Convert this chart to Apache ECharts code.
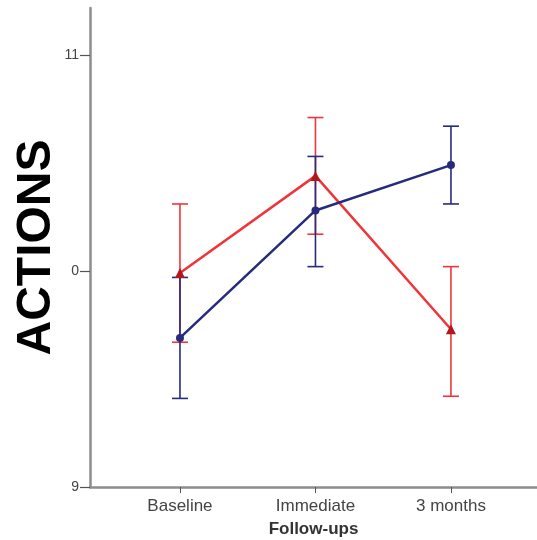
<!DOCTYPE html>
<html>
<head>
<meta charset="utf-8">
<script src="https://cdn.jsdelivr.net/npm/echarts@6.0.0/dist/echarts.min.js"></script>
<style>
  html, body { margin: 0; padding: 0; background: #fff; }
  #chart { width: 537px; height: 540px; }
</style>
</head>
<body>
<div id="chart"></div>
<script>
const categories = ['Baseline', 'Immediate', '3 months'];
const yTickValues = [9, 10, 11];
const yTickLabels = ['9', '0', '11'];

// red group (triangles)
const redMean = [9.99, 10.44, 9.73];
const redLow = [9.67, 10.17, 9.42];
const redHigh = [10.31, 10.71, 10.02];

// blue group (circles)
const blueMean = [9.69, 10.28, 10.49];
const blueLow = [9.41, 10.02, 10.31];
const blueHigh = [9.97, 10.53, 10.67];

const RED = '#f0353a';
const BLUE = '#272b7c';

function errorSeries(low, high, color) {
  return {
    type: 'custom',
    z: 3,
    data: low.map((l, i) => [i + 1, l, high[i]]),
    renderItem: (params, api) => {
      const lo = api.coord([api.value(0), api.value(1)]);
      const hi = api.coord([api.value(0), api.value(2)]);
      const w = 8;
      const style = { stroke: color, lineWidth: 1.6 };
      return {
        type: 'group',
        children: [
          { type: 'line', shape: { x1: lo[0], y1: lo[1], x2: hi[0], y2: hi[1] }, style },
          { type: 'line', shape: { x1: lo[0] - w, y1: lo[1], x2: lo[0] + w, y2: lo[1] }, style },
          { type: 'line', shape: { x1: hi[0] - w, y1: hi[1], x2: hi[0] + w, y2: hi[1] }, style }
        ]
      };
    }
  };
}

const chart = echarts.init(document.getElementById('chart'));
chart.setOption({
  animation: false,
  grid: { left: 90, right: 0, top: 8, bottom: 53, containLabel: false, outerBoundsMode: 'none' },
  xAxis: {
    type: 'value',
    min: 0.336,
    max: 3.635,
    name: 'Follow-ups',
    nameLocation: 'middle',
    nameGap: 34,
    nameMoveOverlap: false,
    nameTextStyle: { fontFamily: 'Liberation Sans', fontWeight: 'bold', fontSize: 17, color: '#333' },
    splitLine: { show: false },
    axisLine: { lineStyle: { color: '#8c8c8c', width: 2.5 } },
    axisTick: { customValues: [1, 2, 3], length: 6, lineStyle: { color: '#555', width: 1 } },
    axisLabel: {
      customValues: [1, 2, 3],
      formatter: v => categories[Math.round(v) - 1],
      fontFamily: 'Liberation Sans',
      fontSize: 17,
      color: '#444',
      margin: 11
    }
  },
  yAxis: {
    type: 'value',
    min: 9,
    max: 11.217,
    name: 'ACTIONS',
    nameLocation: 'middle',
    nameRotate: 90,
    nameGap: 29,
    nameMoveOverlap: false,
    nameTextStyle: { fontFamily: 'Liberation Sans', fontWeight: 'bold', fontSize: 48, color: '#000' },
    splitLine: { show: false },
    axisLine: { show: true, lineStyle: { color: '#8c8c8c', width: 2.5 } },
    axisTick: { show: true, customValues: yTickValues, length: 10, lineStyle: { color: '#555', width: 1.2 } },
    axisLabel: {
      customValues: yTickValues,
      formatter: v => yTickLabels[yTickValues.indexOf(Math.round(v))],
      fontFamily: 'Liberation Sans',
      fontSize: 14,
      color: '#444',
      margin: 11
    }
  },
  series: [
    errorSeries(redLow, redHigh, RED),
    {
      type: 'line',
      z: 4,
      data: redMean.map((v, i) => [i + 1, v]),
      symbol: 'triangle',
      symbolSize: 10,
      lineStyle: { color: RED, width: 2.5 },
      itemStyle: { color: '#b3161c' }
    },
    errorSeries(blueLow, blueHigh, BLUE),
    {
      type: 'line',
      z: 4,
      data: blueMean.map((v, i) => [i + 1, v]),
      symbol: 'circle',
      symbolSize: 8,
      lineStyle: { color: BLUE, width: 2.5 },
      itemStyle: { color: BLUE }
    }
  ]
});
</script>
</body>
</html>
